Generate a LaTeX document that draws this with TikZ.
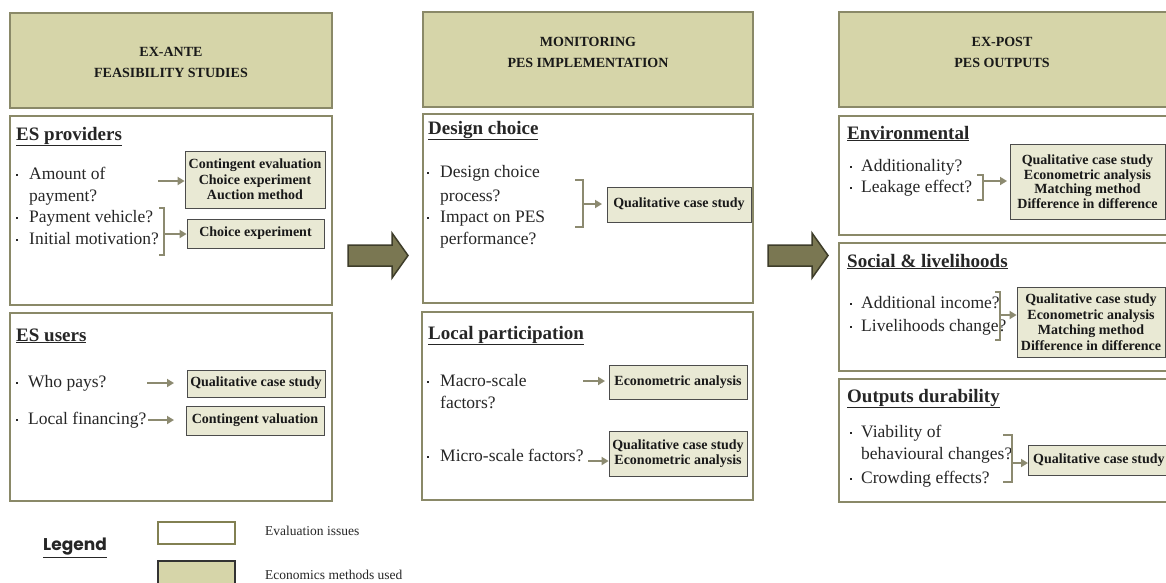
\documentclass[tikz,border=0pt]{standalone}
\usepackage{fontspec}
\setmainfont{Liberation Serif}
\newfontfamily\legendfont{Poppins}
\usetikzlibrary{arrows.meta}
\definecolor{hdrfill}{RGB}{214,213,169}
\definecolor{olive}{RGB}{138,137,104}
\definecolor{legolive}{RGB}{130,128,82}
\definecolor{methfill}{RGB}{233,233,212}
\definecolor{bigarrow}{RGB}{122,119,82}
\definecolor{bigarrowdraw}{RGB}{62,61,42}
\definecolor{connc}{RGB}{140,138,112}
\newcommand\mydot{\rule[3.2pt]{2.2pt}{2.2pt}}
\newcommand\mybul{\makebox[13pt][l]{\mydot}}
\newcommand\mybulb{\makebox[12pt][l]{\mydot}}
\newcommand\mybulc{\makebox[11pt][l]{\mydot}}
\begin{document}
\begin{tikzpicture}[x=1pt,y=-1pt,
  panel/.style={draw=olive, line width=2.4pt, fill=white, inner sep=0pt},
  hdr/.style={draw=olive, line width=2.4pt, fill=hdrfill, inner sep=0pt},
  hdrtxt/.style={font=\bfseries\fontsize{14}{21}\selectfont, align=center, inner sep=0pt, text=black!90},
  head/.style={font=\bfseries\fontsize{19}{22}\selectfont, anchor=west, inner sep=0pt, text height=13pt, text depth=5pt, text=black!85},
  txt/.style={font=\fontsize{17.5}{22}\selectfont, anchor=west, inner sep=0pt, text height=12pt, text depth=4pt, text=black!85},
  meth/.style={draw=black!70, line width=0.8pt, fill=methfill, inner sep=0pt, align=center, font=\bfseries\fontsize{14}{15.5}\selectfont, text=black!90},
  methb/.style={meth, font=\bfseries\fontsize{14}{14.5}\selectfont},
  conn/.style={draw=connc, line width=1.8pt, -{Triangle[length=7pt,width=8pt]}},
  brk/.style={draw=connc, line width=1.8pt},
  bigarr/.style={fill=bigarrow, draw=bigarrowdraw, line width=1.5pt, line join=miter}
]
\useasboundingbox (0,0) rectangle (1166,582);
\fill[white] (0,0) rectangle (1166,582);
\clip (0,0) rectangle (1166,582);

% ---------------- Column 1 ----------------
\node[hdr, minimum width=322pt, minimum height=95pt] (h1) at (171,60.5) {};
\node[hdrtxt] (h1t) at (171,62.5) {EX-ANTE\\FEASIBILITY STUDIES};

\node[panel, minimum width=322pt, minimum height=189pt] (p1) at (171,210.5) {};
\node[head] (p1h) at (16,136) {\underline{ES providers}};
\node[txt] (a1) at (16,175) {\mybul Amount of};
\node[txt] (a2) at (16,197) {\hspace{13pt}payment?};
\node[txt] (a3) at (16,218) {\mybul Payment vehicle?};
\node[txt] (a4) at (16,240) {\mybul Initial motivation?};
\node[meth, minimum width=140pt, minimum height=57pt] (mA) at (255,179.5) {Contingent evaluation\\Choice experiment\\Auction method};
\node[meth, minimum width=137pt, minimum height=29pt] (mB) at (255.5,233.5) {Choice experiment};
\coordinate (cA) at (158,181);
\draw[conn] (cA) -- (cA -| mA.west);
\draw[brk] (159,208) -- (164,208) -- (164,255) -- (159,255);
\coordinate (bA) at (164,234);
\draw[conn] (bA) -- (bA -| mB.west);

\node[panel, minimum width=322pt, minimum height=188pt] (p2) at (171,407) {};
\node[head] (p2h) at (16,337) {\underline{ES users}};
\node[txt] (u1) at (16,383) {\mybulb Who pays?};
\node[txt] (u2) at (16,420) {\mybulb Local financing?};
\node[meth, minimum width=138pt, minimum height=27pt] (mC) at (256,383.5) {Qualitative case study};
\node[meth, minimum width=138pt, minimum height=29pt] (mD) at (255,420.5) {Contingent valuation};
\coordinate (cC) at (147,383);
\coordinate (cC2) at (174,383);
\draw[conn] (cC) -- (cC2);
\coordinate (cD) at (148,420);
\coordinate (cD2) at (174,420);
\draw[conn] (cD) -- (cD2);

% big arrow 1
\draw[bigarr] (348,245) -- (392,245) -- (392,233) -- (408,255.5) -- (392,278) -- (392,266) -- (348,266) -- cycle;

% ---------------- Column 2 ----------------
\node[hdr, minimum width=330pt, minimum height=95pt] (h2) at (588,59.5) {};
\node[hdrtxt] (h2t) at (588,52.5) {MONITORING\\PES IMPLEMENTATION};

\node[panel, minimum width=330pt, minimum height=189pt] (p3) at (588,208.5) {};
\node[head] (p3h) at (428,130) {\underline{Design choice}};
\node[txt] (d1) at (427,173) {\mybul Design choice};
\node[txt] (d2) at (427,197) {\hspace{13pt}process?};
\node[txt] (d3) at (427,218) {\mybul Impact on PES};
\node[txt] (d4) at (427,240) {\hspace{13pt}performance?};
\node[meth, minimum width=144pt, minimum height=35pt] (mE) at (679,204.5) {Qualitative case study};
\draw[brk] (575,180) -- (583,180) -- (583,227) -- (575,227);
\coordinate (bE) at (583,204);
\coordinate (bE2) at (602,204);
\draw[conn] (bE) -- (bE2);

\node[panel, minimum width=331pt, minimum height=188pt] (p4) at (587.5,406) {};
\node[head] (p4h) at (428,335) {\underline{Local participation}};
\node[txt] (l1) at (427,382) {\mybul Macro-scale};
\node[txt] (l2) at (427,404) {\hspace{13pt}factors?};
\node[txt] (l3) at (427,457) {\mybul Micro-scale factors?};
\node[meth, minimum width=138pt, minimum height=34pt] (mF) at (678,382) {Econometric analysis};
\node[meth, minimum width=138pt, minimum height=45pt] (mG) at (678,453.5) {Qualitative case study\\Econometric analysis};
\coordinate (cF) at (583,381);
\coordinate (cF2) at (605,381);
\draw[conn] (cF) -- (cF2);
\coordinate (cG) at (588,461);
\draw[conn] (cG) -- (cG -| mG.west);

% big arrow 2
\draw[bigarr] (768,245) -- (812,245) -- (812,233) -- (828,255.5) -- (812,278) -- (812,266) -- (768,266) -- cycle;

% ---------------- Column 3 ----------------
\node[hdr, minimum width=328pt, minimum height=95pt] (h3) at (1003,59.5) {};
\node[hdrtxt] (h3t) at (1002,52.5) {EX-POST\\PES OUTPUTS};

\node[panel, minimum width=328pt, minimum height=119pt] (p5) at (1003,175.5) {};
\node[head] (p5h) at (847,135) {\underline{Environmental}};
\node[txt] (e1) at (850,167) {\mybulc Additionality?};
\node[txt] (e2) at (850,188) {\mybulc Leakage effect?};
\node[methb, minimum width=155pt, minimum height=75pt] (mH) at (1087.5,181.5) {Qualitative case study\\Econometric analysis\\Matching method\\Difference in difference};
\draw[brk] (977,175) -- (983,175) -- (983,200) -- (977,200);
\coordinate (bH) at (983,181);
\coordinate (bH2) at (1007,181);
\draw[conn] (bH) -- (bH2);

\node[panel, minimum width=328pt, minimum height=128pt] (p6) at (1003,307) {};
\node[head] (p6h) at (847,263) {\underline{Social \& livelihoods}};
\node[txt] (s1) at (850,304) {\mybulc Additional income?};
\node[txt] (s2) at (850,327) {\mybulc Livelihoods change?};
\node[meth, minimum width=148pt, minimum height=70pt] (mI) at (1091,322) {Qualitative case study\\Econometric analysis\\Matching method\\Difference in difference};
\draw[brk] (995,292) -- (1000,292) -- (1000,340) -- (995,340);
\coordinate (bI) at (1000,315);
\draw[conn] (bI) -- (bI -| mI.west);

\node[panel, minimum width=328pt, minimum height=123pt] (p7) at (1003,440.5) {};
\node[head] (p7h) at (847,398) {\underline{Outputs durability}};
\node[txt] (o1) at (850,433) {\mybulc Viability of};
\node[txt] (o2) at (850,455) {\hspace{11pt}behavioural changes?};
\node[txt] (o3) at (850,479) {\mybulc Crowding effects?};
\node[meth, anchor=west, minimum width=150pt, minimum height=30pt] (mJ) at (1028,460) {};
\node[anchor=west, inner sep=0pt, font=\bfseries\fontsize{14}{15.5}\selectfont, text=black!90] (mJt) at (1033,460) {Qualitative case study};
\draw[brk] (1003,435) -- (1012,435) -- (1012,482) -- (1003,482);
\coordinate (bJ) at (1012,463);
\draw[conn] (bJ) -- (bJ -| mJ.west);

% ---------------- Legend ----------------
\node[font=\legendfont\bfseries\fontsize{17}{20}\selectfont, anchor=west, inner sep=0pt, text=black!85] (lg) at (43,548) {\underline{Legend}};
\node[draw=legolive, line width=2.5pt, fill=white, minimum width=77pt, minimum height=22pt, inner sep=0pt] (lb1) at (196.5,533) {};
\node[draw=black!80, fill=hdrfill, line width=1.5pt, minimum width=77pt, minimum height=24pt, inner sep=0pt] (lb2) at (196.5,573) {};
\node[anchor=west, inner sep=0pt, font=\fontsize{13.5}{16}\selectfont, text=black!85] (lt1) at (265,531) {Evaluation issues};
\node[anchor=west, inner sep=0pt, font=\fontsize{13.5}{16}\selectfont, text=black!85] (lt2) at (265,575) {Economics methods used};
\end{tikzpicture}
\end{document}
